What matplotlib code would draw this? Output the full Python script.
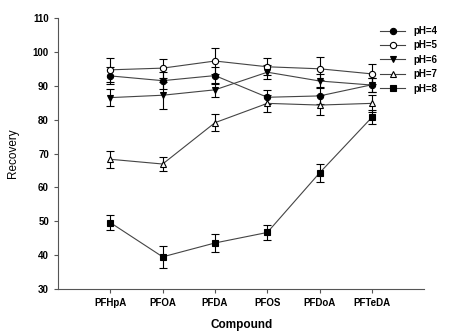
import matplotlib
matplotlib.use('Agg')
import matplotlib.pyplot as plt
from matplotlib.lines import Line2D
import numpy as np

plt.rcParams['font.family'] = ['Liberation Sans', 'DejaVu Sans']

compounds = ['PFHpA', 'PFOA', 'PFDA', 'PFOS', 'PFDoA', 'PFTeDA']

ph4 = [92.9, 91.5, 93.0, 86.6, 87.0, 90.3]
ph4_err = [2.5, 2.5, 2.5, 2.0, 2.5, 2.0]
ph5 = [94.7, 95.2, 97.3, 95.6, 95.0, 93.5]
ph5_err = [3.5, 2.8, 3.7, 2.5, 3.4, 3.0]
ph6 = [86.5, 87.2, 88.8, 94.0, 91.4, 90.2]
ph6_err = [2.5, 4.0, 2.0, 2.0, 2.0, 2.0]
ph7 = [68.3, 66.9, 79.1, 84.8, 84.3, 84.8]
ph7_err = [2.5, 2.2, 2.5, 2.5, 3.0, 2.5]
ph8 = [49.6, 39.5, 43.6, 46.7, 64.3, 80.7]
ph8_err = [2.3, 3.3, 2.6, 2.3, 2.6, 2.0]

series = [
    ('pH=4', ph4, ph4_err, 'o', 'black'),
    ('pH=5', ph5, ph5_err, 'o', 'white'),
    ('pH=6', ph6, ph6_err, 'v', 'black'),
    ('pH=7', ph7, ph7_err, '^', 'white'),
    ('pH=8', ph8, ph8_err, 's', 'black'),
]

fig = plt.figure(figsize=(4.55, 3.33), dpi=100)
ax = fig.add_axes([0.1275, 0.132, 0.805, 0.814])

x = np.arange(1, len(compounds) + 1)
handles = []
for label, vals, err, mk, fc in series:
    ms = 5 if mk == 's' else 4.5
    ax.errorbar(x, vals, yerr=err, fmt='none', ecolor='black', elinewidth=0.8,
                capsize=3, capthick=0.8, zorder=2)
    ax.plot(x, vals, marker=mk, ms=ms, mfc=fc, mec='black', mew=0.8,
            color='#444444', lw=0.8, zorder=3)
    handles.append(Line2D([], [], marker=mk, ms=ms, mfc=fc, mec='black', mew=0.8,
                          color='#444444', lw=0.8, label=label))

ax.set_xlim(0, 7)
ax.set_ylim(30, 110)
ax.set_yticks(range(30, 111, 10))
ax.set_xticks(x)
ax.set_xticklabels(compounds)
for s in ['top', 'right']:
    ax.spines[s].set_visible(False)
for s in ['left', 'bottom']:
    ax.spines[s].set_color('#555555')
    ax.spines[s].set_linewidth(0.8)
ax.tick_params(direction='out', length=3, width=0.8, color='#555555', labelsize=7)
for t in ax.get_xticklabels() + ax.get_yticklabels():
    t.set_fontweight('bold')

ax.set_xlabel('Compound', fontsize=8.5, fontweight='bold', labelpad=8)
ax.set_ylabel('Recovery', fontsize=8.5, labelpad=10)

leg = ax.legend(handles=handles, loc='upper left',
                bbox_to_anchor=(380 / 455, 1 - 26 / 333),
                bbox_transform=fig.transFigure, frameon=False,
                prop={'size': 7, 'weight': 'bold'}, handlelength=2.6,
                handletextpad=0.8, labelspacing=0.45, borderpad=0,
                borderaxespad=0)

fig.savefig('out.png', dpi=100)
